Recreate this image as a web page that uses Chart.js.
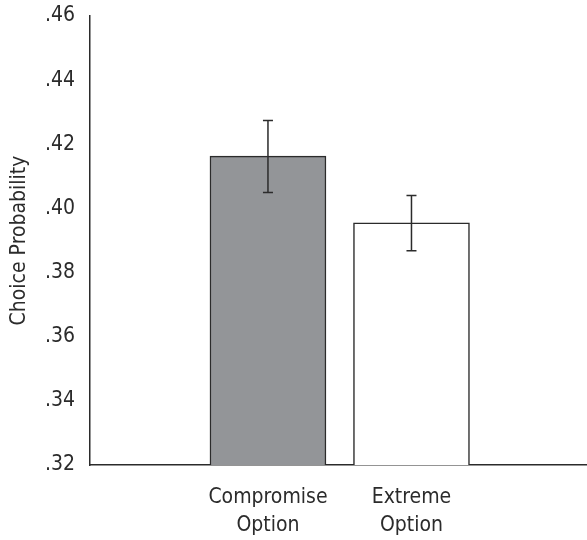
<!DOCTYPE html>
<html>
<head>
<meta charset="utf-8">
<script src="https://cdn.jsdelivr.net/npm/chart.js@4.4.1/dist/chart.umd.min.js"></script>
<style>
  html, body { margin: 0; padding: 0; background: #fff; }
  #wrap { width: 587px; height: 540px; }
</style>
</head>
<body>
<div id="wrap"><canvas id="chart" width="587" height="540"></canvas></div>
<script>
const categories = [["Compromise", "Option"], ["Extreme", "Option"]];
const values = [0.4163, 0.3955];
const errLow = [0.4050, 0.3868];
const errHigh = [0.4274, 0.4040];
const yTicks = [0.32, 0.34, 0.36, 0.38, 0.40, 0.42, 0.44, 0.46];

const ink = "#2b2b2b";
Chart.defaults.font.family = "'DejaVu Sans Condensed', 'Liberation Sans', Arial, sans-serif";
Chart.defaults.color = ink;

// error bars drawn from the y scale
const errorBars = {
  id: "errorBars",
  afterDatasetsDraw(chart) {
    const { ctx, scales } = chart;
    const meta = chart.getDatasetMeta(0);
    ctx.save();
    ctx.strokeStyle = ink;
    ctx.lineWidth = 1.5;
    meta.data.forEach((bar, i) => {
      const x = bar.x;
      const yTop = scales.y.getPixelForValue(errHigh[i]);
      const yBot = scales.y.getPixelForValue(errLow[i]);
      ctx.beginPath();
      ctx.moveTo(x, yTop); ctx.lineTo(x, yBot);
      ctx.moveTo(x - 5, yTop); ctx.lineTo(x + 5, yTop);
      ctx.moveTo(x - 5, yBot); ctx.lineTo(x + 5, yBot);
      ctx.stroke();
    });
    ctx.restore();
  }
};

new Chart(document.getElementById("chart"), {
  type: "bar",
  data: {
    datasets: [{
      data: values.map((v, i) => ({ x: i, y: v })),
      backgroundColor: ["#939598", "#ffffff"],
      borderColor: ink,
      borderWidth: 1.5,
      borderSkipped: "bottom",
      barThickness: 116
    }]
  },
  options: {
    responsive: false,
    animation: false,
    layout: { padding: { top: 16, right: 0, left: 0, bottom: 0 } },
    plugins: { legend: { display: false }, tooltip: { enabled: false } },
    scales: {
      x: {
        type: "linear",
        min: -1.24,
        max: 2.223,
        offset: false,
        grid: { display: false, offset: false },
        border: { display: true, color: ink, width: 1.5 },
        afterBuildTicks: (scale) => { scale.ticks = categories.map((c, i) => ({ value: i })); },
        afterFit: (scale) => { scale.height = 75; scale.paddingLeft = 0; scale.paddingRight = 0; },
        ticks: {
          callback: (v, i) => categories[i],
          font: { size: 21, lineHeight: 1.32 },
          padding: 11,
          maxRotation: 0,
          autoSkip: false
        }
      },
      y: {
        min: 0.32,
        max: 0.46,
        grid: { display: false },
        border: { display: true, color: ink, width: 1.5 },
        afterBuildTicks: (scale) => { scale.ticks = yTicks.map(v => ({ value: v })); },
        afterFit: (scale) => { scale.width = 90; scale.paddingTop = 0; scale.paddingBottom = 0; },
        ticks: {
          callback: (v) => v.toFixed(2).replace(/^0/, ""),
          font: { size: 21 },
          padding: 7
        },
        title: {
          display: true,
          text: "Choice Probability",
          font: { size: 21 },
          padding: { top: 7, bottom: 0 }
        }
      }
    }
  },
  plugins: [errorBars]
});
</script>
</body>
</html>
